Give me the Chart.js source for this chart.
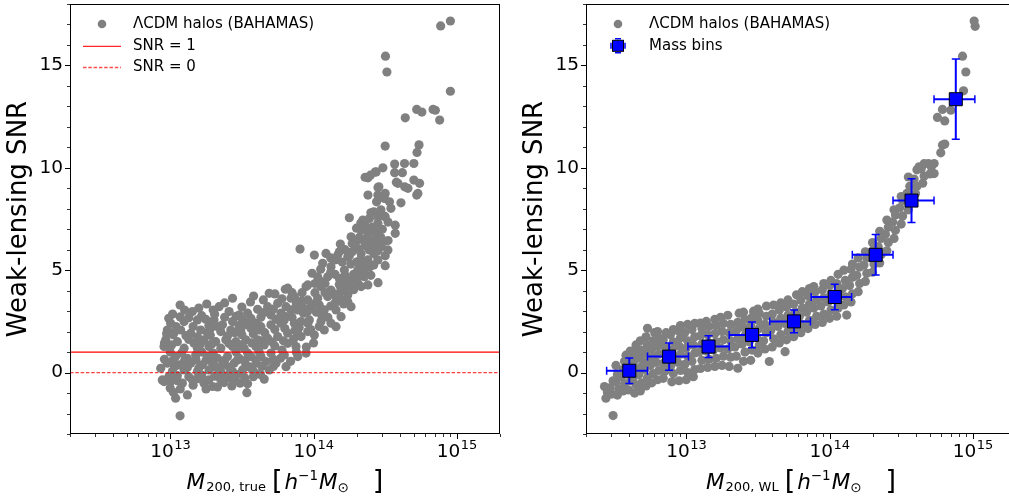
<!DOCTYPE html>
<html>
<head>
<meta charset="utf-8">
<script src="https://cdn.jsdelivr.net/npm/chart.js@4.4.1/dist/chart.umd.min.js"></script>
<style>
  html, body { margin: 0; padding: 0; background: #fff; overflow: hidden; }
  #wrap { position: relative; width: 1009px; height: 498px; overflow: hidden; }
  .panel { position: absolute; top: 0; height: 498px; overflow: hidden; }
</style>
</head>
<body>
<div id="wrap">
  <div class="panel" style="left:0;width:510px"><canvas id="leftChart" width="510" height="498"></canvas></div>
  <div class="panel" style="left:516px;width:493px"><canvas id="rightChart" width="510" height="498"></canvas></div>
</div>
<script>
// axis limits and ticks
var massLimits = [2e12, 2e15];
var snrLimits = [-3, 18];
var tickDecades = [13, 14, 15];
var snrTickLabels = [0, 5, 10, 15];
var snrLines = [1, 0];

var legendLeft = ['ΛCDM halos (BAHAMAS)', 'SNR = 1', 'SNR = 0'];
var legendRight = ['ΛCDM halos (BAHAMAS)', 'Mass bins'];

// halos: [log10 M200,true, SNR]
var trueHalos = [
  [14.955,17.17],[14.887,16.93],[14.502,15.45],[14.512,14.68],[14.955,13.74],[14.640,12.44],[14.720,12.85],[14.756,12.72],[14.834,12.85],[14.850,12.81],[14.880,12.33],
  [14.500,11.06],[14.736,11.12],[14.722,10.75],[14.484,10.00],[14.566,10.18],[14.635,10.21],[14.700,10.21],
  [14.430,9.79],[14.360,9.54],[14.380,9.51],[14.450,9.04],[14.566,9.76],[14.620,9.76],[14.578,9.30],[14.636,9.07],[14.700,9.40],[14.740,9.24],[14.437,9.80],[14.397,9.64],[14.589,9.24],[14.659,9.00],[14.728,8.75],[14.456,9.07],
  [14.720,8.67],[14.380,8.67],[14.449,8.67],[14.440,8.34],[14.530,8.34],[14.610,8.29],[14.540,8.02],[14.500,8.75],[14.495,8.50],
  [14.250,7.56],[14.500,7.61],[14.570,7.20],[14.570,6.80],[14.344,7.45],[14.390,7.53],[14.449,7.29],[14.495,7.64],[14.410,7.10],[14.360,7.20],[14.480,7.00],
  [14.332,6.96],[14.379,6.80],[14.425,6.47],[14.472,6.15],[14.519,5.99],[14.390,5.99],[14.309,6.47],[14.262,6.63],[14.187,6.28],[14.285,6.23],[14.440,6.80],[14.470,6.60],[14.360,6.20],[14.410,6.10],[14.320,6.60],
  [13.906,6.03],[14.006,5.74],[14.087,5.82],[14.169,5.74],[14.239,5.66],[14.332,5.82],[14.379,5.50],[14.449,5.50],[14.270,5.90],[14.220,6.00],[14.420,5.80],
  [14.500,5.22],[14.064,5.34],[14.122,5.17],[14.215,5.01],[14.309,5.01],[14.300,5.40],[14.340,5.20],[14.200,5.40],[14.260,5.30],[14.150,5.50],
  [14.450,4.39],[14.355,4.68],[14.029,4.68],[14.099,4.68],[14.180,4.60],[14.262,4.52],[14.120,4.90],[14.280,4.80],[14.050,4.45],
  [13.960,4.28],[14.052,4.20],[14.122,4.03],[14.215,4.03],[14.309,4.36],[14.379,4.28],[14.180,4.30],[14.250,4.25],[14.332,4.20],
  [13.820,4.12],[13.866,3.71],[13.960,3.55],[14.029,3.63],[14.099,3.71],[14.180,3.87],[14.239,3.79],[14.080,3.90],[14.010,3.90],[13.920,3.90],
  [13.808,3.22],[13.890,3.06],[13.983,3.22],[14.075,3.06],[14.157,3.06],[14.239,3.46],[14.262,3.22],[14.150,3.40],[14.200,3.55],[13.880,3.35],
  [13.796,2.57],[13.866,2.41],[13.960,2.41],[14.052,2.49],[14.122,2.41],[14.192,2.73],[13.930,2.90],[14.020,2.95],[14.100,2.70],
  [13.820,1.92],[13.913,1.76],[14.006,1.84],[14.075,2.08],[14.157,2.24],[13.900,2.20],[13.980,2.10],[14.040,2.25],
  [13.820,1.43],[13.878,1.27],[13.948,0.95],[13.950,1.25],[14.000,1.45],[13.880,1.00],
  [13.950,3.00],[13.990,3.35],[14.040,3.30],[14.060,2.75],[14.120,3.25],[14.160,3.65],[14.210,3.35],[14.130,3.90],[14.190,4.15],[14.230,4.45],
  [14.280,4.05],[14.310,4.65],[14.350,4.95],[14.390,5.15],[14.420,5.25],[14.400,4.75],[14.330,5.55],[14.250,5.70],[14.180,5.90],[14.120,5.60],
  [14.050,5.05],[14.080,4.35],[14.010,4.35],[13.990,4.85],[14.150,4.80],[14.220,4.75],[14.270,6.30],[14.310,6.05],[14.350,6.50],[14.400,6.50],
  [14.430,6.90],[14.390,6.35],[14.460,6.30],[14.490,6.40],[14.520,6.45],[14.450,5.95],[14.500,5.70],[14.520,7.35],[14.450,7.60],[14.420,7.85],
  [14.470,7.95],[14.400,7.80],[14.330,7.30],[14.300,7.05],[13.920,3.50],[13.850,3.90],
  [13.069,3.30],[13.255,3.35],[13.341,3.22],[13.435,3.63],[13.582,3.74],[13.691,3.87],[13.731,3.84],[13.803,4.07],[13.948,4.20],
  [13.017,2.86],[13.155,2.98],[13.411,2.98],[13.481,2.81],[13.540,2.90],[13.610,3.09],[13.680,3.22],[13.750,3.38],[13.843,3.63],[13.890,3.46],
  [13.003,2.41],[13.097,2.49],[13.190,2.57],[13.248,2.60],[13.306,2.57],[13.365,2.33],[13.435,2.49],[13.505,2.57],[13.563,2.65],[13.633,2.70],[13.703,2.81],[13.773,2.90],[13.843,3.06],[13.924,3.22],[13.959,2.98],
  [12.980,2.08],[13.073,2.08],[13.143,1.92],[13.213,2.08],[13.283,2.16],[13.353,2.00],[13.423,2.08],[13.493,2.08],[13.563,2.16],[13.633,2.24],[13.703,2.33],[13.773,2.41],[13.913,2.49],[13.971,2.57],
  [12.969,1.60],[13.050,1.51],[13.166,1.43],[13.236,1.60],[13.318,1.51],[13.388,1.60],[13.458,1.51],[13.528,1.60],[13.610,1.60],[13.680,1.68],[13.750,1.76],[13.890,1.92],[13.960,2.00],
  [12.957,1.27],[13.097,1.19],[13.190,1.19],[13.271,1.27],[13.353,1.19],[13.435,1.27],[13.516,1.19],[13.598,1.27],[13.656,1.35],[13.730,1.30],
  [13.038,0.78],[13.120,0.70],[13.178,0.86],[13.260,0.78],[13.330,0.70],[13.400,0.78],[13.481,0.70],[13.563,0.78],[13.633,0.78],[13.703,0.95],[13.796,0.86],[13.890,0.78],
  [12.980,0.46],[13.062,0.38],[13.143,0.46],[13.225,0.38],[13.295,0.46],[13.365,0.38],[13.446,0.46],[13.528,0.38],[13.598,0.46],[13.668,0.54],[13.738,0.46],[13.808,0.29],
  [12.934,0.21],[13.015,0.05],[13.097,0.13],[13.190,0.05],[13.271,0.13],[13.353,0.05],[13.435,0.05],[13.505,0.13],[13.575,0.13],[13.691,0.13],
  [13.656,-0.32],[13.540,-0.55],[13.488,-0.52],[13.423,-0.27],[13.376,-0.49],[13.295,-0.68],[13.236,-0.52],[13.155,-0.36],[13.085,-0.52],[13.003,-0.44],[12.957,-0.44],[12.945,-0.36],
  [13.535,-0.98],[13.120,-1.09],[13.038,-1.25],[13.022,-0.96],[13.069,-2.11],
  [13.000,1.00],[13.080,0.95],[13.220,1.00],[13.300,0.95],[13.460,1.00],[13.540,0.95],[13.620,1.02],[13.780,1.10],
  [13.020,0.60],[13.100,0.58],[13.180,0.62],[13.300,0.58],[13.380,0.60],[13.520,0.58],[13.600,0.62],[13.720,0.65],
  [13.050,-0.15],[13.130,-0.20],[13.220,-0.12],[13.310,-0.18],[13.400,-0.15],[13.470,-0.10],[13.600,-0.05],
  [13.020,1.85],[13.110,1.80],[13.190,1.75],[13.280,1.82],[13.400,1.78],[13.500,1.85],[13.580,1.90],[13.660,1.95],
  [13.040,2.25],[13.160,2.25],[13.270,2.30],[13.480,2.30],[13.600,2.40],[13.850,2.70],[12.960,1.45],[12.975,1.90],
  [12.990,2.65],[13.070,2.72],[13.130,2.68],[13.220,2.78],[13.310,2.85],[13.380,2.70],[13.460,2.75],[13.580,2.45],[13.660,2.95],[13.740,2.60],[13.800,2.75],
  [13.010,1.35],[13.130,1.62],[13.210,1.38],[13.290,1.40],[13.410,1.42],[13.490,1.35],[13.570,1.45],[13.640,1.55],[13.710,1.50],[13.790,1.55],[13.860,1.62],
  [12.960,0.65],[13.030,0.28],[13.120,0.25],[13.200,0.22],[13.250,0.60],[13.320,0.25],[13.410,0.27],[13.470,0.62],[13.550,0.28],[13.640,0.30],[13.720,0.30],[13.770,0.70],[13.840,0.55],
  [12.990,-0.20],[13.050,-0.40],[13.190,-0.30],[13.270,-0.35],[13.350,-0.30],[13.450,-0.40],[13.520,-0.25],[13.580,-0.20],[13.630,-0.10],
  [13.030,1.98],[13.260,1.95],[13.330,2.25],[13.450,1.95],[13.530,2.35],[13.620,2.08],[13.730,2.10],[13.800,2.15],[13.870,2.05],
  [13.100,3.05],[13.200,3.15],[13.300,3.05],[13.380,3.40],[13.500,3.20],[13.560,3.45],[13.650,3.55],[13.720,3.10],[13.780,3.60],
  [13.000,-0.75],[13.070,-0.80],[13.160,-0.62],[13.250,-0.80],[13.330,-0.70],[13.430,-0.65]
];

// halos: [log10 M200,WL, SNR]
var wlHalos = [
  [12.49,-2.10],
  [12.44,-1.25],[12.45,-0.95],[12.43,-0.68],
  [12.48,-1.05],[12.47,-0.75],[12.49,-0.40],
  [12.52,-1.10],[12.53,-0.80],[12.51,-0.45],[12.52,-0.10],[12.51,0.35],
  [12.56,-0.90],[12.57,-0.55],[12.55,-0.20],[12.56,0.15],[12.57,0.55],[12.58,0.85],
  [12.60,-0.85],[12.61,-0.40],[12.59,0.00],[12.61,0.40],[12.60,0.75],[12.61,1.05],
  [12.64,-1.00],[12.65,-0.60],[12.63,-0.25],[12.65,0.20],[12.64,0.60],[12.65,0.95],[12.65,1.35],
  [12.68,-0.90],[12.69,-0.50],[12.67,-0.10],[12.69,0.30],[12.68,0.70],[12.69,1.10],[12.68,1.55],
  [12.72,-0.65],[12.73,-0.25],[12.71,0.15],[12.73,0.55],[12.72,0.95],[12.73,1.35],[12.72,1.75],[12.73,2.16],
  [12.76,-0.50],[12.77,-0.05],[12.75,0.35],[12.77,0.75],[12.76,1.15],[12.77,1.55],[12.78,1.95],
  [12.80,-0.35],[12.81,0.10],[12.79,0.50],[12.81,0.90],[12.80,1.30],[12.81,1.70],[12.80,2.00],
  [12.84,-0.28],[12.85,0.05],[12.84,0.45],[12.86,0.85],[12.85,1.25],[12.84,1.60],[12.86,1.95],
  [12.90,-0.45],[12.91,-0.05],[12.89,0.30],[12.91,0.70],[12.90,1.10],[12.91,1.50],[12.89,1.85],[12.91,2.10],
  [12.95,-0.40],[12.96,0.10],[12.94,0.50],[12.96,0.90],[12.95,1.30],[12.96,1.70],[12.96,2.30],[12.94,2.05],
  [13.00,-0.35],[13.01,0.00],[12.99,0.40],[13.01,0.80],[13.00,1.20],[13.01,1.55],[12.99,1.95],[13.01,2.35],
  [13.05,-0.20],[13.06,0.15],[13.04,0.55],[13.06,0.95],[13.05,1.35],[13.06,1.75],[13.04,2.10],[13.06,2.40],
  [13.10,0.20],[13.11,0.60],[13.09,1.00],[13.11,1.40],[13.10,1.80],[13.11,2.15],[13.10,2.42],
  [13.15,0.25],[13.16,0.65],[13.14,1.05],[13.16,1.45],[13.15,1.85],[13.16,2.25],[13.14,2.50],
  [13.20,0.30],[13.21,0.70],[13.19,1.10],[13.21,1.50],[13.20,1.90],[13.21,2.30],[13.20,2.60],
  [13.25,0.35],[13.26,0.80],[13.24,1.20],[13.26,1.60],[13.25,2.00],[13.26,2.40],[13.24,2.70],
  [13.30,0.30],[13.31,0.75],[13.29,1.15],[13.31,1.55],[13.30,1.95],[13.31,2.35],[13.29,2.80],
  [13.36,0.21],[13.35,0.80],[13.34,1.25],[13.36,1.65],[13.35,2.05],[13.36,2.45],[13.37,2.90],
  [13.40,0.55],[13.41,1.00],[13.39,1.40],[13.41,1.80],[13.40,2.20],[13.41,2.60],[13.40,2.95],
  [13.45,0.60],[13.46,1.10],[13.44,1.50],[13.46,1.90],[13.45,2.30],[13.46,2.70],[13.47,3.00],
  [13.50,0.95],[13.51,1.35],[13.49,1.75],[13.51,2.15],[13.50,2.55],[13.51,2.90],[13.50,3.10],
  [13.58,0.54],[13.55,1.15],[13.54,1.55],[13.56,1.95],[13.55,2.35],[13.56,2.75],[13.56,3.25],
  [13.60,1.25],[13.61,1.65],[13.59,2.05],[13.61,2.45],[13.60,2.85],[13.61,3.30],
  [13.65,1.45],[13.66,1.85],[13.64,2.25],[13.66,2.65],[13.65,3.05],[13.66,3.40],
  [13.69,1.02],
  [13.70,1.60],[13.71,2.00],[13.69,2.40],[13.71,2.80],[13.70,3.20],[13.71,3.55],
  [13.75,1.75],[13.76,2.15],[13.74,2.55],[13.76,2.95],[13.75,3.35],[13.77,3.80],
  [13.80,1.95],[13.81,2.35],[13.79,2.75],[13.81,3.15],[13.80,3.55],[13.81,3.95],
  [13.85,2.15],[13.86,2.55],[13.84,2.95],[13.86,3.35],[13.85,3.75],[13.86,4.10],
  [13.90,2.35],[13.91,2.75],[13.89,3.15],[13.91,3.55],[13.90,3.95],[13.89,4.20],
  [13.95,2.45],[13.96,2.85],[13.94,3.25],[13.96,3.65],[13.95,4.05],[13.96,4.35],
  [14.00,2.65],[14.01,3.05],[13.99,3.45],[14.01,3.85],[14.00,4.25],[14.01,4.50],
  [14.05,2.75],[14.06,3.15],[14.04,3.55],[14.06,3.95],[14.05,4.35],[14.06,4.80],
  [14.12,2.81],[14.10,3.30],[14.11,3.70],[14.09,4.10],[14.11,4.50],[14.10,5.00],
  [14.15,3.45],[14.16,3.85],[14.14,4.25],[14.16,4.65],[14.15,5.05],[14.16,5.30],
  [14.20,3.95],[14.21,4.35],[14.19,4.75],[14.21,5.15],[14.20,5.60],
  [14.25,4.45],[14.26,4.85],[14.24,5.25],[14.26,5.60],[14.25,5.90],
  [14.30,4.90],[14.31,5.30],[14.29,5.70],[14.31,6.05],[14.30,6.35],
  [14.35,5.35],[14.36,5.75],[14.34,6.15],[14.36,6.55],[14.35,6.90],
  [14.40,5.95],[14.41,6.35],[14.39,6.75],[14.41,7.10],[14.40,7.45],
  [14.45,6.55],[14.46,6.95],[14.44,7.35],[14.46,7.70],[14.45,7.95],
  [14.50,7.25],[14.51,7.65],[14.49,8.05],[14.51,8.40],[14.50,8.60],
  [14.55,7.95],[14.56,8.35],[14.54,8.75],[14.56,9.10],[14.55,9.55],
  [14.60,8.75],[14.61,9.10],[14.59,9.45],[14.61,9.90],
  [14.65,9.25],[14.66,9.60],[14.64,9.95],[14.66,10.20],[14.625,10.05],
  [14.70,9.70],[14.71,10.05],[14.69,10.21],[14.73,9.72],[14.73,10.21],
  [14.753,12.46],[14.776,10.73],[14.788,11.11],[14.804,11.16],[14.788,12.85],[14.804,12.29],[14.846,12.81],
  [14.935,13.76],[14.951,14.68],[14.928,15.45],[15.009,17.17],[15.016,16.91]
];

// mass bins (log10 mass centre, bin edges, mean SNR and its error)
var binLogMass = [12.603, 12.881, 13.156, 13.459, 13.752, 14.037, 14.322, 14.572, 14.881];
var binLogLo = [12.445, 12.730, 13.012, 13.300, 13.583, 13.872, 14.159, 14.443, 14.729];
var binLogHi = [12.730, 13.016, 13.300, 13.587, 13.867, 14.154, 14.443, 14.729, 15.014];
var binSnr = [0.09, 0.78, 1.27, 1.84, 2.50, 3.69, 5.75, 8.40, 13.35];
var binSnrErr = [0.62, 0.67, 0.53, 0.63, 0.55, 0.62, 0.99, 1.07, 1.96];

function fnt(size, style) {
  return (style ? style + ' ' : '') + size + 'px "DejaVu Sans"';
}

function toPoints(list) {
  return list.map(function (p) { return {x: Math.pow(10, p[0]), y: p[1]}; });
}

function drawMassTitle(ctx, cx, baseY, sub) {
  var parts = [
    {t: 'M', f: fnt(21.5, 'italic')},
    {gap: 1},
    {t: '200, ' + sub, f: fnt(13), dy: 2},
    {gap: 6},
    {t: '[', f: fnt(27)},
    {gap: 2},
    {t: 'h', f: fnt(21.5, 'italic')},
    {t: '\u22121', f: fnt(13.5), dy: -9},
    {gap: 1},
    {t: 'M', f: fnt(21.5, 'italic')},
    {t: '\u2299', f: fnt(13.5), dy: 3},
    {gap: 24},
    {t: ']', f: fnt(27)}
  ];
  var w = 0;
  parts.forEach(function (p) {
    if (p.gap) { p.w = p.gap; } else { ctx.font = p.f; p.w = ctx.measureText(p.t).width; }
    w += p.w;
  });
  var xx = cx - w / 2;
  ctx.textAlign = 'left';
  ctx.textBaseline = 'alphabetic';
  parts.forEach(function (p) {
    if (!p.gap) { ctx.font = p.f; ctx.fillText(p.t, xx, baseY + (p.dy || 0)); }
    xx += p.w;
  });
}

function drawBinMarker(ctx, x, y, half) {
  ctx.fillStyle = '#0000ff';
  ctx.strokeStyle = '#000';
  ctx.lineWidth = 1;
  ctx.fillRect(x - half, y - half, 2 * half, 2 * half);
  ctx.strokeRect(x - half, y - half, 2 * half, 2 * half);
}

var axesDecor = {
  id: 'axesDecor',
  beforeDatasetDraw: function (chart, args, opts) {
    if (!opts.bins || args.index !== 1) return;
    var ctx = chart.ctx, x = chart.scales.x, y = chart.scales.y;
    ctx.save();
    ctx.strokeStyle = '#0000ff';
    for (var i = 0; i < binLogMass.length; i++) {
      var px = x.getPixelForValue(Math.pow(10, binLogMass[i]));
      var py = y.getPixelForValue(binSnr[i]);
      var x0 = x.getPixelForValue(Math.pow(10, binLogLo[i]));
      var x1 = x.getPixelForValue(Math.pow(10, binLogHi[i]));
      var y0 = y.getPixelForValue(binSnr[i] - binSnrErr[i]);
      var y1 = y.getPixelForValue(binSnr[i] + binSnrErr[i]);
      ctx.lineWidth = 2;
      ctx.beginPath();
      ctx.moveTo(x0, py); ctx.lineTo(x1, py);
      ctx.moveTo(px, y0); ctx.lineTo(px, y1);
      ctx.stroke();
      ctx.lineWidth = 1.5;
      ctx.beginPath();
      ctx.moveTo(x0, py - 4); ctx.lineTo(x0, py + 4);
      ctx.moveTo(x1, py - 4); ctx.lineTo(x1, py + 4);
      ctx.moveTo(px - 4, y0); ctx.lineTo(px + 4, y0);
      ctx.moveTo(px - 4, y1); ctx.lineTo(px + 4, y1);
      ctx.stroke();
    }
    ctx.restore();
  },
  afterDraw: function (chart, args, opts) {
    var ctx = chart.ctx, a = chart.chartArea, x = chart.scales.x, y = chart.scales.y;
    ctx.save();
    ctx.strokeStyle = '#000';
    ctx.fillStyle = '#000';

    // frame
    ctx.lineWidth = 1;
    ctx.strokeRect(Math.round(a.left) + 0.5, Math.round(a.top) + 0.5,
      Math.round(a.right - a.left) - 1, Math.round(a.bottom - a.top) - 1);

    // x tick marks (log: major at decades, minor at 2..9)
    for (var d = 12; d <= 15; d++) {
      for (var m = 1; m <= 9; m++) {
        var v = m * Math.pow(10, d);
        if (v < massLimits[0] * 0.999 || v > massLimits[1] * 1.001) continue;
        var px = Math.round(x.getPixelForValue(v)) + 0.5;
        ctx.lineWidth = m === 1 ? 1 : 0.8;
        ctx.beginPath();
        ctx.moveTo(px, a.bottom);
        ctx.lineTo(px, a.bottom + (m === 1 ? 5 : 3));
        ctx.stroke();
      }
    }
    // y tick marks
    for (var s = snrLimits[0]; s <= snrLimits[1]; s++) {
      var py = Math.round(y.getPixelForValue(s)) + 0.5;
      var major = snrTickLabels.indexOf(s) >= 0;
      ctx.lineWidth = major ? 1 : 0.8;
      ctx.beginPath();
      ctx.moveTo(a.left, py);
      ctx.lineTo(a.left - (major ? 5 : 3), py);
      ctx.stroke();
    }

    // x tick labels 10^n
    ctx.textAlign = 'left';
    ctx.textBaseline = 'alphabetic';
    tickDecades.forEach(function (e) {
      var px = x.getPixelForValue(Math.pow(10, e));
      ctx.font = fnt(18.5);
      var w1 = ctx.measureText('10').width;
      ctx.font = fnt(13);
      var w2 = ctx.measureText(String(e)).width;
      var x0 = px - (w1 + w2) / 2;
      ctx.font = fnt(18.5);
      ctx.fillText('10', x0, a.bottom + 22.7);
      ctx.font = fnt(13);
      ctx.fillText(String(e), x0 + w1 + 0.5, a.bottom + 15);
    });

    // x axis title
    drawMassTitle(ctx, (a.left + a.right) / 2, a.bottom + 55, opts.sub);

    // legend
    var lx = a.left, rows = [20, 41.8, 63];
    ctx.font = fnt(15);
    ctx.textBaseline = 'middle';
    opts.legend.forEach(function (txt, i) {
      var ry = a.top + rows[i];
      ctx.fillStyle = '#000';
      ctx.fillText(txt, lx + 63, ry + 0.5);
      if (i === 0) {
        ctx.fillStyle = '#808080';
        ctx.beginPath();
        ctx.arc(lx + 32, ry, 4.3, 0, Math.PI * 2);
        ctx.fill();
      } else if (opts.bins) {
        ctx.strokeStyle = '#0000ff';
        ctx.lineWidth = 1.5;
        ctx.beginPath();
        ctx.moveTo(lx + 25, ry - 3); ctx.lineTo(lx + 25, ry + 3);
        ctx.moveTo(lx + 39, ry - 3); ctx.lineTo(lx + 39, ry + 3);
        ctx.moveTo(lx + 29, ry - 7); ctx.lineTo(lx + 35, ry - 7);
        ctx.moveTo(lx + 29, ry + 7); ctx.lineTo(lx + 35, ry + 7);
        ctx.stroke();
        drawBinMarker(ctx, lx + 32, ry, 5.5);
      } else {
        ctx.strokeStyle = i === 1 ? 'rgba(255,0,0,0.85)' : 'rgba(255,0,0,0.7)';
        ctx.lineWidth = 1.3;
        ctx.setLineDash(i === 1 ? [] : [3.5, 1.8]);
        ctx.beginPath();
        ctx.moveTo(lx + 13, ry + 0.5);
        ctx.lineTo(lx + 51, ry + 0.5);
        ctx.stroke();
        ctx.setLineDash([]);
      }
    });
    ctx.restore();
  }
};

Chart.defaults.font.family = '"DejaVu Sans"';
Chart.defaults.color = '#000';

function noPadding(s) {
  s.paddingTop = 0;
  s.paddingBottom = 0;
  s.paddingLeft = 0;
  s.paddingRight = 0;
}

function panelScales() {
  return {
    x: {
      type: 'logarithmic',
      min: massLimits[0],
      max: massLimits[1],
      grid: {display: false, drawTicks: false},
      border: {display: false},
      ticks: {display: false, autoSkip: false},
      afterFit: function (s) { s.height = 64; noPadding(s); }
    },
    y: {
      min: snrLimits[0],
      max: snrLimits[1],
      grid: {display: false, drawTicks: false},
      border: {display: false},
      ticks: {
        stepSize: 1,
        autoSkip: false,
        padding: 7,
        color: '#000',
        font: {size: 18.5},
        callback: function (v) { return snrTickLabels.indexOf(v) >= 0 ? String(v) : ''; }
      },
      title: {display: true, text: 'Weak-lensing SNR', color: '#000', font: {size: 26}, padding: {top: 4, bottom: 0}},
      afterFit: function (s) { s.width = 70; noPadding(s); }
    }
  };
}

var haloStyle = {
  backgroundColor: '#808080',
  borderWidth: 0,
  pointRadius: 4.6,
  pointHoverRadius: 4.6
};

var leftDatasets = [
  Object.assign({type: 'scatter', label: legendLeft[0], data: toPoints(trueHalos), order: 3}, haloStyle),
  {
    type: 'line', label: legendLeft[1], order: 1,
    data: massLimits.map(function (m) { return {x: m, y: snrLines[0]}; }),
    borderColor: '#ff0000', borderWidth: 1.3, pointRadius: 0
  },
  {
    type: 'line', label: legendLeft[2], order: 2,
    data: massLimits.map(function (m) { return {x: m, y: snrLines[1]}; }),
    borderColor: 'rgba(255,0,0,0.75)', borderWidth: 1.3, borderDash: [3.5, 1.8], pointRadius: 0
  }
];

var rightDatasets = [
  Object.assign({type: 'scatter', label: legendRight[0], data: toPoints(wlHalos), order: 2}, haloStyle),
  {
    type: 'scatter', label: legendRight[1], order: 1,
    data: binLogMass.map(function (lm, i) { return {x: Math.pow(10, lm), y: binSnr[i]}; }),
    pointStyle: 'rect', pointRadius: 9.2, pointHoverRadius: 9.2,
    backgroundColor: '#0000ff', borderColor: '#000', borderWidth: 1
  }
];

function makePanel(id, datasets, decor) {
  return new Chart(document.getElementById(id), {
    type: 'scatter',
    data: {datasets: datasets},
    options: {
      responsive: false,
      animation: false,
      devicePixelRatio: 1,
      events: [],
      layout: {autoPadding: false, padding: {top: 4, right: 10, left: 0, bottom: 0}},
      plugins: {legend: {display: false}, tooltip: {enabled: false}, axesDecor: decor},
      scales: panelScales()
    },
    plugins: [axesDecor]
  });
}

makePanel('leftChart', leftDatasets, {legend: legendLeft, sub: 'true', bins: false});
makePanel('rightChart', rightDatasets, {legend: legendRight, sub: 'WL', bins: true});
</script>
</body>
</html>
